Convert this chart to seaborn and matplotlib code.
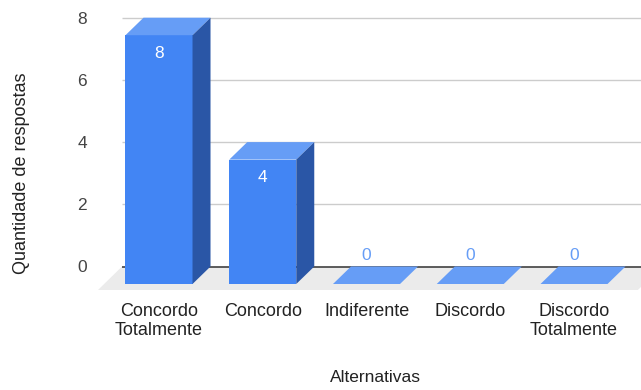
import matplotlib
matplotlib.use("Agg")
import matplotlib.pyplot as plt
from matplotlib.patches import Polygon
import seaborn as sns
import pandas as pd

categories = ["Concordo\nTotalmente", "Concordo", "Indiferente", "Discordo", "Discordo\nTotalmente"]
values = [8, 4, 0, 0, 0]
y_ticks = [0, 2, 4, 6, 8]

FRONT = "#4285F4"
TOP = "#669DF6"
SIDE = "#2A56A6"

sns.set_theme(style="white")
plt.rcParams["font.family"] = ["Liberation Sans", "DejaVu Sans"]

W, H = 641, 390
fig = plt.figure(figsize=(W / 100, H / 100), dpi=100)
# axes box in pixels: left, top, right, bottom
L, T, R, B = 98, 10, 641, 295
ax = fig.add_axes([L / W, 1 - B / H, (R - L) / W, (B - T) / H])

df = pd.DataFrame({"Alternativas": categories, "Respostas": values})
bar_w = 0.646
sns.barplot(data=df, x="Alternativas", y="Respostas", color=FRONT, saturation=1,
            width=bar_w, ax=ax, zorder=3, linewidth=0)

x_step = 103.75  # pixels per category
y_step = 31.1    # pixels per unit
ax.set_xlim((L - 159) / x_step, (R - 159) / x_step)
ax.set_ylim((284 - B) / y_step, (284 - T) / y_step)

# depth of the 3D extrusion, in data units
dx = 18 / x_step
dy = 17.5 / y_step

# floor
x0, x1 = ax.get_xlim()
fd = 24 / x_step
f_front = -6 / y_step
floor = Polygon([(x0, f_front), (x1 - 0.03, f_front), (x1 - 0.03 + fd, dy), (x0 + fd, dy)],
                closed=True, facecolor="#ebebeb", edgecolor="none", zorder=1, clip_on=False)
ax.add_patch(floor)

# grid on the back wall
for v in y_ticks:
    ax.plot([x0 + fd, x1 + 0.2], [v + dy, v + dy], color="#333333" if v == 0 else "#cccccc",
            lw=1.1 if v == 0 else 1.0, zorder=2, clip_on=False, solid_capstyle="butt")

# extrude the bars
for p, v in zip(ax.patches[:len(values)], values):
    bx, by, bw, bh = p.get_x(), p.get_y(), p.get_width(), p.get_height()
    top = Polygon([(bx, by + bh), (bx + bw, by + bh), (bx + bw + dx, by + bh + dy), (bx + dx, by + bh + dy)],
                  closed=True, facecolor=TOP, edgecolor="none", zorder=4)
    ax.add_patch(top)
    if bh > 0:
        side = Polygon([(bx + bw, by), (bx + bw + dx, by + dy), (bx + bw + dx, by + bh + dy), (bx + bw, by + bh)],
                       closed=True, facecolor=SIDE, edgecolor="none", zorder=4)
        ax.add_patch(side)
        ax.text(bx + bw / 2, bh - 18 / y_step, f"{v}", ha="center", va="center",
                color="white", fontsize=12.5, zorder=5)
    else:
        ax.text(bx + bw / 2, 29 / y_step, f"{v}", ha="center", va="center",
                color=TOP, fontsize=12.5, zorder=5)

ax.set_yticks([v + dy for v in y_ticks])
ax.set_yticklabels([str(v) for v in y_ticks])
ax.tick_params(axis="y", length=0, pad=8, labelsize=12.5, labelcolor="#444444")
ax.tick_params(axis="x", length=0, pad=6, labelsize=13, labelcolor="#222222")
for lbl in ax.get_xticklabels():
    lbl.set_linespacing(1.15)
for s in ax.spines.values():
    s.set_visible(False)
ax.grid(False)

ax.set_xlabel("")
ax.set_ylabel("")
fig.text(375 / W, 1 - 378 / H, "Alternativas", ha="center", va="center", fontsize=12.5, color="#222222")
fig.text(22 / W, 1 - 173 / H, "Quantidade de respostas", ha="center", va="center",
         rotation=90, fontsize=13, color="#222222")

fig.savefig("out.png", dpi=100)
